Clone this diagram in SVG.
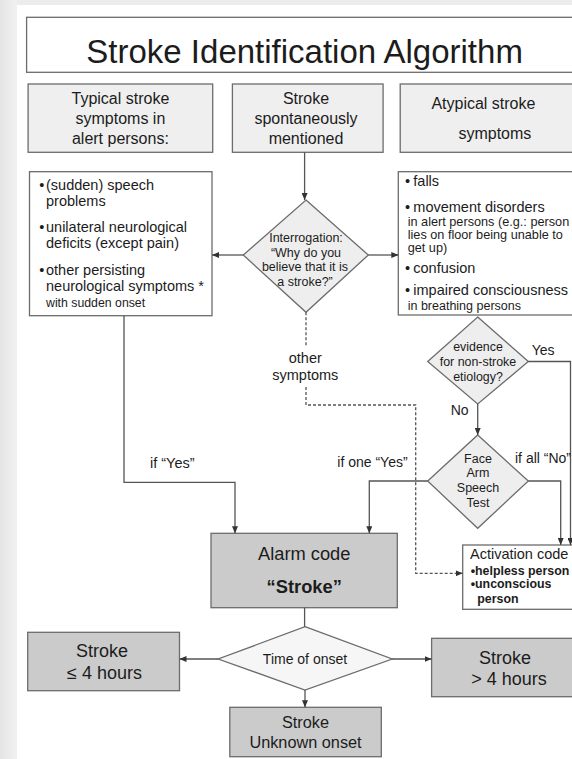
<svg xmlns="http://www.w3.org/2000/svg" width="572" height="759" viewBox="0 0 572 759">
<defs>
<linearGradient id="bg" x1="0" y1="0" x2="1" y2="0">
<stop offset="0" stop-color="#e4e4e4"/>
<stop offset="1" stop-color="#f1f1f1"/>
</linearGradient>
<marker id="arr" markerWidth="7" markerHeight="6" refX="7" refY="3" orient="auto" markerUnits="userSpaceOnUse">
<path d="M0,0 L7,3 L0,6 z" fill="#333"/>
</marker>
<style>
.box{stroke:#6c6c6c;stroke-width:1.3}
.hdr{fill:#efefef}
.dark{fill:#cbcbcb}
.wht{fill:#fff}
.dia{fill:#eeeeee;stroke:#6c6c6c;stroke-width:1.3}
.t{font-family:"Liberation Sans",Arial,sans-serif;fill:#1c1c1c}
.c{text-anchor:middle}
.b{font-weight:bold}
.conn{stroke:#555;stroke-width:1.3;fill:none}
.dash{stroke-dasharray:3 2}
</style>
</defs>
<rect x="0" y="0" width="572" height="759" fill="#ececec"/>
<rect x="0" y="0" width="17" height="759" fill="url(#bg)"/>
<rect x="17" y="5" width="555" height="754" fill="#ffffff"/>

<g id="title">
<rect class="box wht" x="26.6" y="17.3" width="560" height="55"/>
<text class="t c" x="304.6" y="63.3" font-size="33">Stroke Identification Algorithm</text>
</g>

<g id="hdr-typical">
<rect class="box hdr" x="28.1" y="84" width="184.6" height="68.3"/>
<text class="t c" x="120.4" y="104" font-size="16">Typical stroke</text>
<text class="t c" x="120.4" y="124" font-size="16">symptoms in</text>
<text class="t c" x="120.4" y="144" font-size="16">alert persons:</text>
</g>

<g id="hdr-spontaneous">
<rect class="box hdr" x="232.4" y="84" width="150.7" height="68.3"/>
<text class="t c" x="306" y="104" font-size="16">Stroke</text>
<text class="t c" x="306" y="124" font-size="16">spontaneously</text>
<text class="t c" x="306" y="144" font-size="16">mentioned</text>
</g>

<g id="hdr-atypical">
<rect class="box hdr" x="400.2" y="84" width="190" height="68.3"/>
<text class="t c" x="483.4" y="109.3" font-size="16">Atypical stroke</text>
<text class="t c" x="494.9" y="139.3" font-size="16">symptoms</text>
</g>

<g id="typical-list">
<rect class="box wht" x="29.5" y="171.7" width="182.5" height="144"/>
<text class="t" x="39.3" y="190" font-size="14.5">•</text>
<text class="t" x="46" y="190" font-size="14.5">(sudden) speech</text>
<text class="t" x="46" y="206" font-size="14.5">problems</text>
<text class="t" x="39.3" y="232" font-size="14.5">•</text>
<text class="t" x="46" y="232" font-size="14.5">unilateral neurological</text>
<text class="t" x="46" y="248" font-size="14.5">deficits (except pain)</text>
<text class="t" x="39.3" y="275" font-size="14.5">•</text>
<text class="t" x="46" y="275" font-size="14.5">other persisting</text>
<text class="t" x="46" y="291" font-size="14.5">neurological symptoms *</text>
<text class="t" x="46" y="306.5" font-size="12.3">with sudden onset</text>
</g>

<g id="interrogation">
<polygon class="dia" points="306,200 368.3,255 306,312.3 243.3,255"/>
<text class="t c" x="306" y="242" font-size="12.5">Interrogation:</text>
<text class="t c" x="306" y="256.5" font-size="12.5">“Why do you</text>
<text class="t c" x="305" y="271" font-size="12.5">believe that it is</text>
<text class="t c" x="305" y="285.5" font-size="12.5">a stroke?”</text>
</g>

<g id="atypical-list">
<rect class="box wht" x="398.3" y="171.7" width="190" height="143.3"/>
<text class="t" x="405" y="185.7" font-size="14.5">•</text>
<text class="t" x="413.3" y="185.7" font-size="14.5">falls</text>
<text class="t" x="405" y="211.7" font-size="14.5">•</text>
<text class="t" x="413.3" y="211.7" font-size="14.5">movement disorders</text>
<text class="t" x="407.7" y="226" font-size="12.7">in alert persons (e.g.: person</text>
<text class="t" x="407.7" y="239" font-size="12.7">lies on floor being unable to</text>
<text class="t" x="407.7" y="251.5" font-size="12.7">get up)</text>
<text class="t" x="405" y="273.3" font-size="14.5">•</text>
<text class="t" x="413.3" y="273.3" font-size="14.5">confusion</text>
<text class="t" x="405" y="295" font-size="14.5">•</text>
<text class="t" x="413.3" y="295" font-size="14.5">impaired consciousness</text>
<text class="t" x="407.7" y="309.5" font-size="12.5">in breathing persons</text>
</g>

<g id="evidence">
<polygon class="dia" points="477.7,317 528.3,361.5 477.7,404 427.7,361.5"/>
<text class="t c" x="478" y="350.7" font-size="12.4">evidence</text>
<text class="t c" x="478" y="366" font-size="12.4">for non-stroke</text>
<text class="t c" x="478" y="380.5" font-size="12.4">etiology?</text>
</g>

<g id="fast">
<polygon class="dia" points="477.7,435 528.3,481 477.7,528.3 427.7,481"/>
<text class="t c" x="478" y="462.7" font-size="12.5">Face</text>
<text class="t c" x="478" y="477.3" font-size="12.5">Arm</text>
<text class="t c" x="478" y="492.3" font-size="12.5">Speech</text>
<text class="t c" x="478" y="506.7" font-size="12.5">Test</text>
</g>

<g id="alarm">
<rect class="box dark" x="211" y="533.3" width="186.3" height="74.4"/>
<text class="t c" x="304.2" y="560" font-size="18.3">Alarm code</text>
<text class="t c b" x="304.2" y="592.7" font-size="18.3">“Stroke”</text>
</g>

<g id="activation">
<rect class="box wht" x="462.7" y="545" width="130" height="64.3"/>
<text class="t" x="470" y="559" font-size="14.5">Activation code</text>
<text class="t b" x="470.7" y="575" font-size="12.4">•helpless person</text>
<text class="t b" x="470.7" y="588.3" font-size="12.4">•unconscious</text>
<text class="t b" x="477.3" y="603.3" font-size="12.4">person</text>
</g>

<g id="time">
<polygon points="305,626.7 392.2,659 305,690 218.2,659" fill="#f6f6f6" stroke="#6c6c6c" stroke-width="1.3"/>
<text class="t c" x="305" y="664" font-size="14">Time of onset</text>
</g>

<g id="stroke-le4">
<rect class="box dark" x="27.7" y="632.3" width="151.8" height="58.4"/>
<text class="t c" x="102" y="657.3" font-size="18">Stroke</text>
<text class="t c" x="104.5" y="679.3" font-size="18">≤ 4 hours</text>
</g>

<g id="stroke-gt4">
<rect class="box dark" x="431.6" y="638.3" width="160" height="58.4"/>
<text class="t c" x="505" y="664" font-size="18">Stroke</text>
<text class="t c" x="509" y="685" font-size="18">&gt; 4 hours</text>
</g>

<g id="stroke-unknown">
<rect class="box dark" x="229.8" y="707.3" width="151.5" height="49.4"/>
<text class="t c" x="305.5" y="728.3" font-size="16.3">Stroke</text>
<text class="t c" x="305.5" y="748.3" font-size="16.3">Unknown onset</text>
</g>

<g id="connectors">
<path class="conn" d="M304.6,152.3 V200" marker-end="url(#arr)"/>
<path class="conn" d="M243.3,255 H212" marker-end="url(#arr)"/>
<path class="conn" d="M368.3,255 H398.3" marker-end="url(#arr)"/>
<path class="conn" d="M124,315.7 V482.3 H235 V533.3" marker-end="url(#arr)"/>
<path class="conn" d="M477.7,404 V435" marker-end="url(#arr)"/>
<path class="conn" d="M528.3,361.5 H570.5 V545" marker-end="url(#arr)"/>
<path class="conn" d="M427.7,481 H369.3 V533.3" marker-end="url(#arr)"/>
<path class="conn" d="M528.3,481 H560.7 V545" marker-end="url(#arr)"/>
<path class="conn dash" d="M306,312.3 V346"/>
<path class="conn dash" d="M306,387 V405 H415.7 V573.3 H462.7" marker-end="url(#arr)"/>
<path class="conn" d="M304.6,607.7 V626.7"/>
<path class="conn" d="M218.2,659 H179.5" marker-end="url(#arr)"/>
<path class="conn" d="M392.2,659 H431.6" marker-end="url(#arr)"/>
<path class="conn" d="M305,690 V707.3" marker-end="url(#arr)"/>
<text class="t c" x="305.3" y="363" font-size="14.5">other</text>
<text class="t c" x="305.3" y="380" font-size="14.5">symptoms</text>
<text class="t" x="531.7" y="355" font-size="14">Yes</text>
<text class="t" x="450.7" y="415" font-size="14">No</text>
<text class="t" x="337.3" y="466.7" font-size="14">if one “Yes”</text>
<text class="t" x="515" y="463.3" font-size="14">if all “No”</text>
<text class="t" x="150" y="467.7" font-size="14.5">if “Yes”</text>
</g>
</svg>
